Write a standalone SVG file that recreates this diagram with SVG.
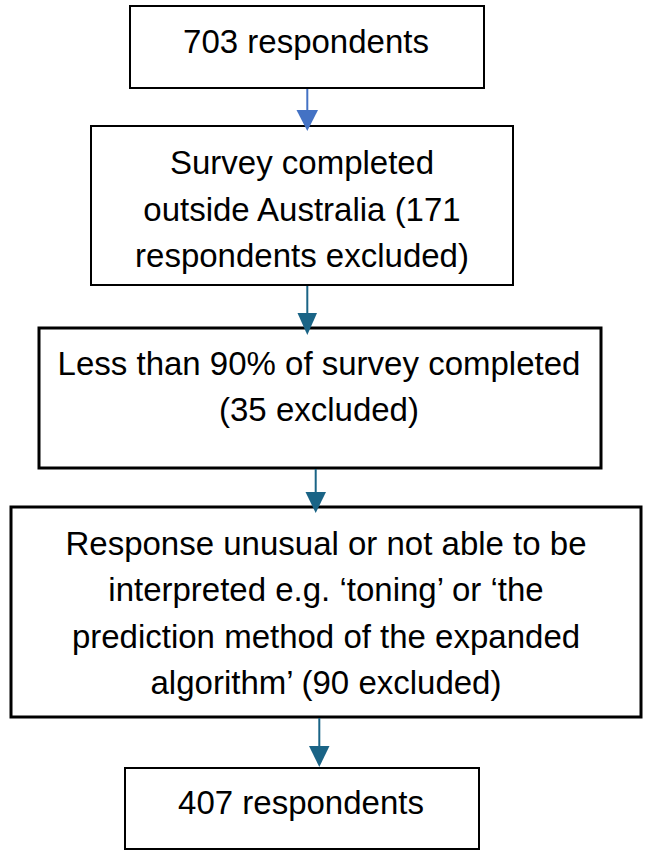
<svg xmlns="http://www.w3.org/2000/svg" width="653" height="859" viewBox="0 0 653 859">
<style>
  .box { fill: #ffffff; stroke: #000000; stroke-width: 2; }
  .thick { stroke-width: 3; }
  .t { font-family: "Liberation Sans", Arial, sans-serif; font-size: 33px; fill: #000000; text-anchor: middle; }
  .c1 { stroke: #4472C4; stroke-width: 2; fill: none; }
  .c2 { stroke: #1A6486; stroke-width: 2; fill: none; }
  .h1 { fill: #4472C4; }
  .h2 { fill: #1A6486; }
</style>
<rect width="653" height="859" fill="#ffffff"/>
<g id="n1">
  <rect class="box" x="130" y="6" width="354" height="82"/>
  <text class="t" x="306" y="53">703 respondents</text>
</g>
<g id="n2">
  <rect class="box" x="91" y="126" width="422" height="159"/>
  <text class="t" x="302" y="174">Survey completed</text>
  <text class="t" x="302" y="221">outside Australia (171</text>
  <text class="t" x="302" y="267">respondents excluded)</text>
</g>
<g id="n3">
  <rect class="box thick" x="39" y="328" width="562" height="140"/>
  <text class="t" x="319" y="375">Less than 90% of survey completed</text>
  <text class="t" x="319" y="421">(35 excluded)</text>
</g>
<g id="n4">
  <rect class="box thick" x="11" y="507" width="630" height="210"/>
  <text class="t" x="326" y="555">Response unusual or not able to be</text>
  <text class="t" x="326" y="601">interpreted e.g. ‘toning’ or ‘the</text>
  <text class="t" x="326" y="648">prediction method of the expanded</text>
  <text class="t" x="326" y="694">algorithm’ (90 excluded)</text>
</g>
<g id="n5">
  <rect class="box" x="125" y="768" width="354" height="81"/>
  <text class="t" x="301" y="814">407 respondents</text>
</g>
<g id="connectors">
  <line class="c1" x1="307.3" y1="89" x2="307.3" y2="112"/>
  <polygon class="h1" points="296.5,110 318,110 307.3,131"/>
  <line class="c2" x1="307.3" y1="286" x2="307.3" y2="315"/>
  <polygon class="h2" points="297.5,313 317,313 307.3,335"/>
  <line class="c2" x1="315.7" y1="469" x2="315.7" y2="494"/>
  <polygon class="h2" points="305.5,492 326,492 315.7,513"/>
  <line class="c2" x1="319.3" y1="718" x2="319.3" y2="748"/>
  <polygon class="h2" points="309,746 329.5,746 319.3,767"/>
</g>
</svg>
